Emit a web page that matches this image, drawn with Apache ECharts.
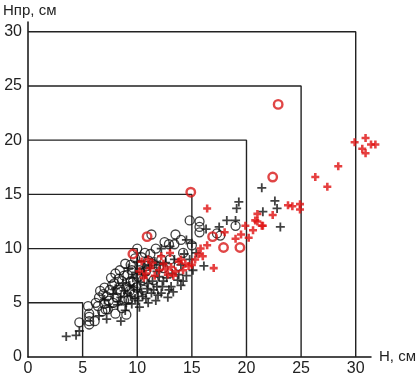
<!DOCTYPE html>
<html><head><meta charset="utf-8">
<script src="https://cdn.jsdelivr.net/npm/echarts@6/dist/echarts.min.js"></script>
<style>html,body{margin:0;padding:0;background:#fff}#c{width:419px;height:377px}</style>
</head><body><div id="c"></div>
<script>
const xTicks = [0,5,10,15,20,25,30];
const yTicks = [0,5,10,15,20,25,30];
const squares = [5,10,15,20,25,30];

const blackCircles = [[4.7,3.2],[5.6,3.0],[5.6,3.3],[5.6,3.7],[5.6,4.0],[6.1,3.3],[5.5,4.7],[6.4,4.7],[6.5,5.5],[7.0,4.9],[7.2,5.6],[7.5,6.2],[7.8,5.0],[7.9,6.8],[8.1,5.5],[8.3,7.2],[8.5,6.0],[8.6,4.5],[8.8,7.5],[9.0,3.9],[9.0,6.5],[9.2,5.3],[9.4,7.0],[9.5,8.0],[9.7,5.8],[9.9,6.4],[10.1,7.4],[10.3,8.5],[10.4,9.2],[10.6,6.2],[10.8,7.9],[11.0,8.9],[11.2,9.5],[11.5,7.1],[11.7,10.0],[12.0,8.3],[12.2,9.0],[12.5,10.6],[12.9,10.4],[13.4,10.4],[13.5,11.3],[13.0,9.0],[13.8,8.4],[14.2,9.6],[14.8,12.6],[15.7,12.5],[15.7,12.0],[15.7,11.5],[17.3,11.4],[17.6,11.2],[19.0,12.1],[6.8,4.2],[7.3,4.4],[8.0,4.0],[7.6,7.3],[8.9,8.6],[9.8,9.1],[10.0,10.0],[11.3,11.3],[6.2,5.0],[7.0,6.4],[8.4,8.0],[12.4,8.2],[14.0,10.8],[15.0,10.3],[6.9,5.8],[7.4,5.2],[7.7,6.6],[8.2,6.2],[8.6,7.0],[9.1,7.6],[9.3,6.1],[9.6,6.9],[10.2,8.0],[10.5,7.1],[10.9,8.4],[11.4,8.6],[8.0,7.7],[8.8,5.2],[9.4,8.5],[10.7,9.6],[7.1,4.4],[6.6,6.1]];

const blackPlus = [[3.5,1.9],[4.4,2.0],[4.7,2.4],[8.5,3.3],[11.0,5.0],[11.7,5.2],[12.8,5.5],[14.0,6.6],[13.1,6.5],[7.0,5.3],[7.5,4.6],[7.8,5.8],[8.0,6.3],[8.2,4.8],[8.5,5.5],[8.7,6.8],[8.9,4.3],[9.1,5.9],[9.3,6.6],[9.5,4.9],[9.6,7.3],[9.8,5.4],[10.0,6.2],[10.2,4.6],[10.3,6.9],[10.5,5.6],[10.7,7.6],[10.9,6.3],[11.1,8.4],[11.3,5.9],[11.4,7.0],[11.6,8.8],[11.8,6.5],[12.0,7.4],[12.2,5.9],[12.4,7.0],[12.6,8.7],[12.9,6.2],[13.2,7.7],[13.4,9.0],[13.7,7.1],[14.0,8.5],[14.3,9.5],[14.5,7.5],[14.8,9.0],[15.1,8.0],[15.4,9.6],[15.0,10.5],[16.1,8.4],[9.2,8.2],[10.0,8.8],[13.0,10.2],[14.5,10.8],[12.2,10.0],[21.4,15.6],[19.3,14.3],[19.1,13.7],[22.6,14.4],[22.8,13.7],[21.5,13.4],[23.1,12.0],[18.2,12.6],[19.0,12.6],[17.5,12.0],[16.3,11.8],[6.5,3.8],[7.2,3.5],[8.3,5.1],[8.8,6.1],[9.0,5.0],[9.4,5.6],[9.7,6.4],[10.1,5.2],[10.4,6.0],[10.8,5.4],[11.0,6.8],[11.5,6.2],[11.9,5.7],[12.3,6.5],[12.7,7.3],[13.3,6.0],[13.8,7.6],[14.2,7.0],[9.9,7.8],[10.6,8.2],[11.8,7.9],[12.1,8.5]];

const redCircles = [[22.9,23.3],[14.9,15.2],[10.9,11.1],[9.6,9.5],[22.4,16.6],[16.9,11.1],[17.9,10.1],[19.4,10.1]];

const redPlus = [[10.4,8.8],[10.6,7.3],[10.8,7.7],[11.2,8.2],[11.6,7.5],[12.0,8.0],[12.4,8.6],[12.8,7.6],[13.1,8.3],[13.5,7.9],[13.8,8.8],[14.2,8.0],[14.7,8.4],[15.3,9.0],[15.8,10.0],[16.0,9.3],[16.4,10.3],[17.0,8.2],[16.4,13.7],[19.0,10.9],[19.9,12.1],[20.6,11.7],[21.0,13.2],[20.8,12.6],[21.4,12.1],[22.4,13.1],[21.0,12.5],[21.5,12.1],[23.8,14.0],[24.2,13.9],[24.9,14.1],[24.9,13.6],[26.3,16.6],[27.4,15.7],[28.4,17.6],[29.9,19.8],[30.9,20.2],[31.4,19.6],[31.8,19.6],[30.6,19.2],[30.9,18.8],[11.0,9.0],[12.2,9.3],[13.0,9.6],[14.0,9.0],[15.0,8.5],[18.0,11.5],[19.5,11.3],[20.2,11.0],[11.4,8.7],[12.6,8.1],[13.3,7.5],[14.4,8.6],[15.6,9.5],[10.2,7.9]];

const FONT = 'Liberation Sans, Arial, sans-serif';
const PLUS = 'path://M-1,-5H1V-1H5V1H1V5H-1V1H-5V-1H-1Z';
const PLUS_BOLD = 'path://M-1.6,-5H1.6V-1.6H5V1.6H1.6V5H-1.6V1.6H-5V-1.6H-1.6Z';

const squareSeries = squares.map(k => ({
  type: 'line', data: [[0,k],[k,k],[k,0]], symbol: 'none', silent: true,
  lineStyle: {color: '#222', width: 1.4}, z: 1, animation: false
}));

const chart = echarts.init(document.getElementById('c'));
chart.setOption({
  animation: false,
  backgroundColor: '#fff',
  grid: {left: 26, right: 47, top: 22, bottom: 18, containLabel: false},
  xAxis: {
    type: 'value', min: 0, max: 31.4, interval: 5,
    name: 'Н, см', nameLocation: 'end', nameGap: 8,
    nameTextStyle: {fontFamily: FONT, fontSize: 15, color: '#222', verticalAlign: 'middle'},
    axisLine: {lineStyle: {color: '#111', width: 1.5}},
    axisTick: {show: false}, splitLine: {show: false},
    axisLabel: {margin: 4, fontFamily: FONT, fontSize: 16, color: '#222',
      formatter: v => xTicks.includes(v) ? String(v) : ''}
  },
  yAxis: {
    type: 'value', min: 0, max: 30.9, interval: 5,
    name: 'Нпр, см', nameLocation: 'end', nameGap: 4,
    nameTextStyle: {fontFamily: FONT, fontSize: 15, color: '#222', align: 'left', padding: [0,0,0,-25]},
    axisLine: {lineStyle: {color: '#111', width: 1.5}},
    axisTick: {show: false}, splitLine: {show: false},
    axisLabel: {margin: 6, fontFamily: FONT, fontSize: 16, color: '#222',
      formatter: v => yTicks.includes(v) ? String(v) : ''}
  },
  series: [
    ...squareSeries,
    {type: 'scatter', data: blackCircles, symbol: 'circle', symbolSize: 9, clip: false, z: 3,
      itemStyle: {color: 'rgba(0,0,0,0)', borderColor: '#111', borderWidth: 1.3}},
    {type: 'scatter', data: blackPlus, symbol: PLUS, symbolSize: 9, clip: false, z: 3,
      itemStyle: {color: '#111'}},
    {type: 'scatter', data: redPlus, symbol: PLUS_BOLD, symbolSize: 8, clip: false, z: 4,
      itemStyle: {color: '#e01010'}},
    {type: 'scatter', data: redCircles, symbol: 'circle', symbolSize: 8.5, clip: false, z: 4,
      itemStyle: {color: 'rgba(0,0,0,0)', borderColor: '#d81818', borderWidth: 2.4}}
  ]
});
</script></body></html>
